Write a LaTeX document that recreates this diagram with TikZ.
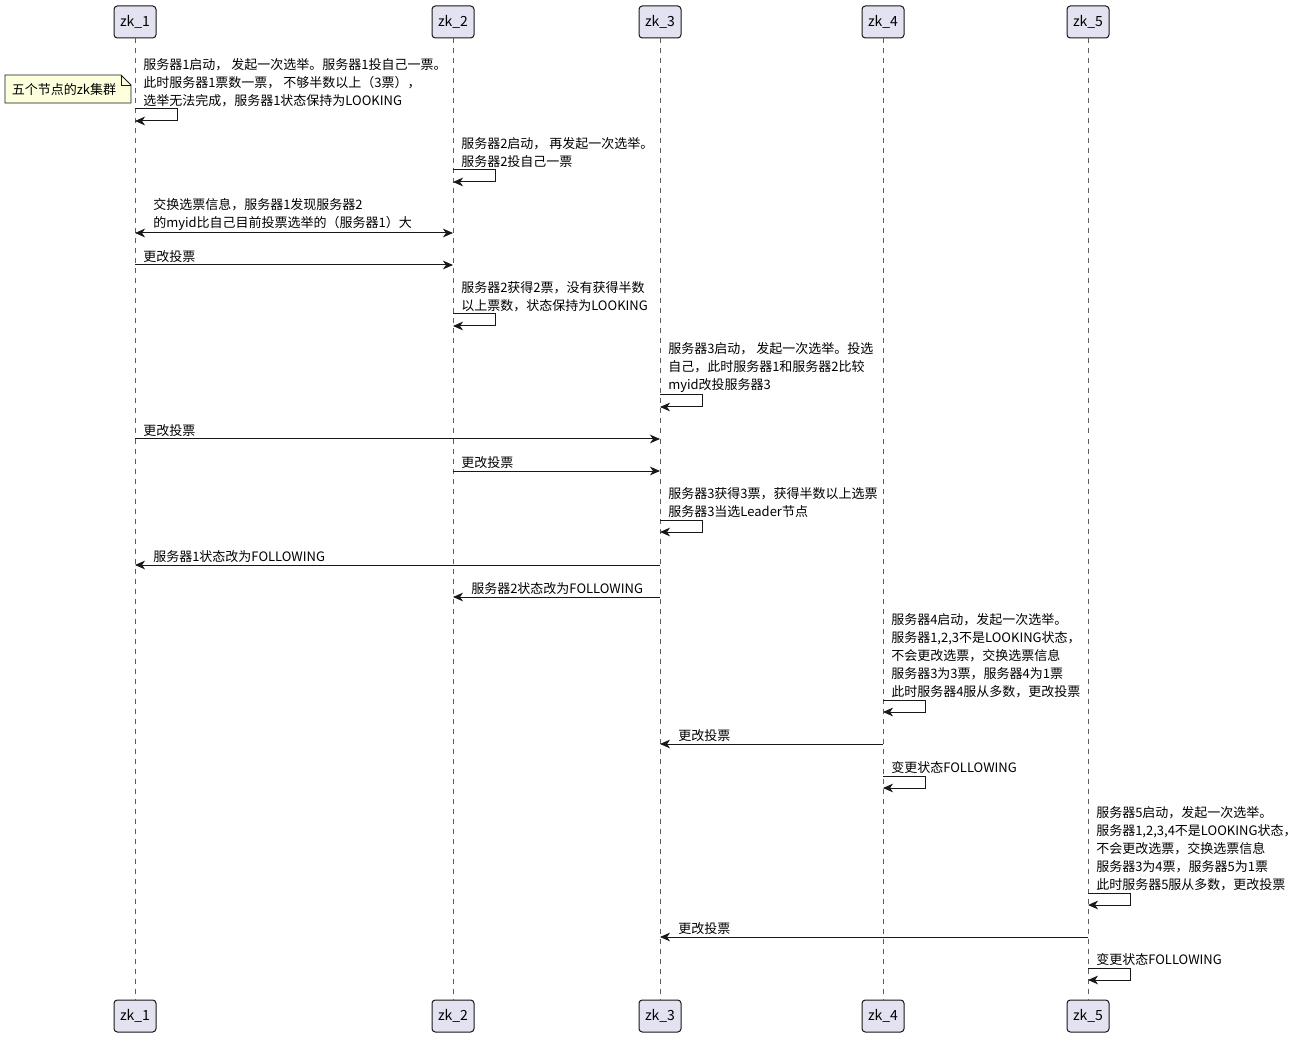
\documentclass[tikz,border=0pt]{standalone}
\usepackage{fontspec}
\setmainfont{Noto Sans CJK SC}
\usetikzlibrary{arrows.meta}
\definecolor{linec}{HTML}{181818}
\definecolor{partfill}{HTML}{E2E2F0}
\definecolor{notefill}{HTML}{FEFFDD}
\tikzset{
  part/.style={draw=linec, fill=partfill, line width=0.75pt, rounded corners=2.5pt,
    minimum width=31.5pt, minimum height=24pt, inner sep=0pt,
    font=\fontsize{10.5}{12}\selectfont},
  life/.style={draw=linec!70, line width=0.5pt, dash pattern=on 3.75pt off 3.75pt},
  lbl/.style={anchor=south west, inner sep=0pt, align=left,
    font=\fontsize{9.75}{13.5}\selectfont},
  msg/.style={draw=linec, line width=0.75pt, -{Stealth[length=7.5pt,width=6.5pt,inset=2.2pt]}},
  bimsg/.style={draw=linec, line width=0.75pt, {Stealth[length=7.5pt,width=6.5pt,inset=2.2pt]}-{Stealth[length=7.5pt,width=6.5pt,inset=2.2pt]}},
  notebox/.style={draw=linec, fill=notefill, line width=0.6pt},
  notetxt/.style={inner sep=0pt, font=\fontsize{9.75}{12}\selectfont}
}
\begin{document}
\begin{tikzpicture}[x=0.75pt,y=-0.75pt]
\useasboundingbox (0,0) rectangle (1303,1037);
% participants
\node[part] (t1) at (135,22) {zk\_1};
\node[part] (t2) at (453,22) {zk\_2};
\node[part] (t3) at (660,22) {zk\_3};
\node[part] (t4) at (883,22) {zk\_4};
\node[part] (t5) at (1088,22) {zk\_5};
\node[part] (b1) at (135,1016) {zk\_1};
\node[part] (b2) at (453,1016) {zk\_2};
\node[part] (b3) at (660,1016) {zk\_3};
\node[part] (b4) at (883,1016) {zk\_4};
\node[part] (b5) at (1088,1016) {zk\_5};
\foreach \i in {1,...,5} \draw[life] (t\i.south) -- (b\i.north);
% note
\draw[notebox] (5,75) -- (121,75) -- (131,85) -- (131,103) -- (5,103) -- cycle;
\draw[linec, line width=0.6pt] (121,75) -- (121,85) -- (131,85);
\node[notetxt] (note) at (64,90) {五个节点的zk集群};
% 1 self zk_1
\node[lbl] (m1) at (143,107) {服务器1启动， 发起一次选举。服务器1投自己一票。\\此时服务器1票数一票， 不够半数以上（3票），\\选举无法完成，服务器1状态保持为LOOKING};
\draw[msg] (t1.south |- 0,109) -- ++(42,0) -- ++(0,12) -- ++(-42,0);
% 2 self zk_2
\node[lbl] (m2) at (461,168) {服务器2启动， 再发起一次选举。\\服务器2投自己一票};
\draw[msg] (t2.south |- 0,170) -- ++(42,0) -- ++(0,12) -- ++(-42,0);
% 3 bidirectional
\node[lbl] (m3) at (153,231) {交换选票信息，服务器1发现服务器2\\的myid比自己目前投票选举的（服务器1）大};
\draw[bimsg] (t1.south |- 0,233) -- (t2.south |- 0,233);
% 4
\node[lbl] (m4) at (143,263) {更改投票};
\draw[msg] (t1.south |- 0,265) -- (t2.south |- 0,265);
% 5 self zk_2
\node[lbl] (m5) at (461,312) {服务器2获得2票，没有获得半数\\以上票数，状态保持为LOOKING};
\draw[msg] (t2.south |- 0,314) -- ++(42,0) -- ++(0,12) -- ++(-42,0);
% 6 self zk_3
\node[lbl] (m6) at (668,393) {服务器3启动， 发起一次选举。投选\\自己，此时服务器1和服务器2比较\\myid改投服务器3};
\draw[msg] (t3.south |- 0,395) -- ++(42,0) -- ++(0,12) -- ++(-42,0);
% 7
\node[lbl] (m7) at (143,437) {更改投票};
\draw[msg] (t1.south |- 0,439) -- (t3.south |- 0,439);
% 8
\node[lbl] (m8) at (461,469) {更改投票};
\draw[msg] (t2.south |- 0,471) -- (t3.south |- 0,471);
% 9 self zk_3
\node[lbl] (m9) at (668,518) {服务器3获得3票，获得半数以上选票\\服务器3当选Leader节点};
\draw[msg] (t3.south |- 0,520) -- ++(42,0) -- ++(0,12) -- ++(-42,0);
% 10
\node[lbl] (m10) at (153,563) {服务器1状态改为FOLLOWING};
\draw[msg] (t3.south |- 0,565) -- (t1.south |- 0,565);
% 11
\node[lbl] (m11) at (471,595) {服务器2状态改为FOLLOWING};
\draw[msg] (t3.south |- 0,597) -- (t2.south |- 0,597);
% 12 self zk_4
\node[lbl] (m12) at (891,698) {服务器4启动，发起一次选举。\\服务器1,2,3不是LOOKING状态，\\不会更改选票，交换选票信息\\服务器3为3票，服务器4为1票\\此时服务器4服从多数，更改投票};
\draw[msg] (t4.south |- 0,700) -- ++(42,0) -- ++(0,12) -- ++(-42,0);
% 13
\node[lbl] (m13) at (678,742) {更改投票};
\draw[msg] (t4.south |- 0,744) -- (t3.south |- 0,744);
% 14 self zk_4
\node[lbl] (m14) at (891,774) {变更状态FOLLOWING};
\draw[msg] (t4.south |- 0,776) -- ++(42,0) -- ++(0,12) -- ++(-42,0);
% 15 self zk_5
\node[lbl] (m15) at (1096,891) {服务器5启动，发起一次选举。\\服务器1,2,3,4不是LOOKING状态，\\不会更改选票，交换选票信息\\服务器3为4票，服务器5为1票\\此时服务器5服从多数，更改投票};
\draw[msg] (t5.south |- 0,893) -- ++(42,0) -- ++(0,12) -- ++(-42,0);
% 16
\node[lbl] (m16) at (678,935) {更改投票};
\draw[msg] (t5.south |- 0,937) -- (t3.south |- 0,937);
% 17 self zk_5
\node[lbl] (m17) at (1096,966) {变更状态FOLLOWING};
\draw[msg] (t5.south |- 0,968) -- ++(42,0) -- ++(0,12) -- ++(-42,0);
\end{tikzpicture}
\end{document}
